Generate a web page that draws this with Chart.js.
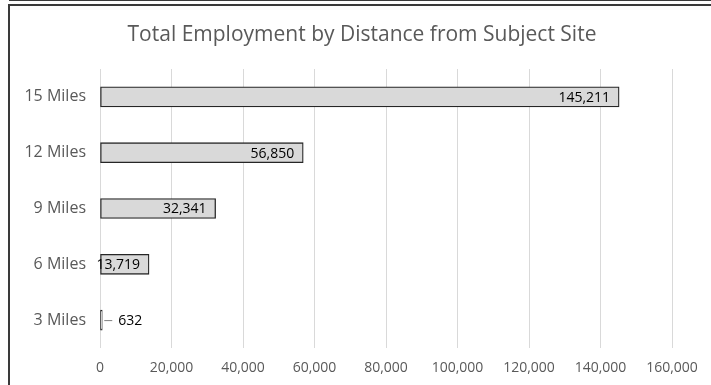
<!DOCTYPE html>
<html>
<head>
<meta charset="utf-8">
<script src="https://cdn.jsdelivr.net/npm/chart.js@4/dist/chart.umd.min.js"></script>
<style>
  html, body { margin: 0; padding: 0; background: #fff; }
  #wrap { position: relative; width: 711px; height: 385px; overflow: hidden; }
  #chart { position: absolute; left: 0; top: 0; }
  .edge { position: absolute; background: #3a3a3a; }
</style>
</head>
<body>
<div id="wrap">
  <canvas id="chart" width="711" height="385"></canvas>
  <!-- frame lines around the chart object -->
  <div class="edge" style="left:9px; top:0; width:702px; height:1px;"></div>
  <div class="edge" style="left:8px; top:4px; width:703px; height:2px;"></div>
  <div class="edge" style="left:8px; top:4px; width:2px; height:381px;"></div>
</div>
<script>
const categories = ['15 Miles', '12 Miles', '9 Miles', '6 Miles', '3 Miles'];
const employment = [145211, 56850, 32341, 13719, 632];
const xTicks = [0, 20000, 40000, 60000, 80000, 100000, 120000, 140000, 160000];
const titleText = 'Total Employment by Distance from Subject Site';

const fontFamily = '"Open Sans", "Noto Sans", sans-serif';
const fmt = v => v.toLocaleString('en-US');

// title centred over the whole chart object, not just the plot
const chartTitle = {
  id: 'chartTitle',
  afterDraw(chart) {
    const ctx = chart.ctx;
    ctx.save();
    ctx.font = '21px ' + fontFamily;
    ctx.fillStyle = '#595959';
    ctx.textAlign = 'center';
    ctx.textBaseline = 'middle';
    ctx.fillText(titleText, 362, 35);
    ctx.restore();
  }
};

// value labels: inside the end of the bar, or outside with a short leader for tiny bars
const barLabels = {
  id: 'barLabels',
  afterDatasetsDraw(chart) {
    const ctx = chart.ctx;
    const meta = chart.getDatasetMeta(0);
    ctx.save();
    ctx.font = '14px ' + fontFamily;
    ctx.fillStyle = '#000';
    ctx.textBaseline = 'middle';
    meta.data.forEach((bar, i) => {
      const text = fmt(employment[i]);
      const w = bar.x - bar.base;
      if (w > 30) {
        ctx.textAlign = 'right';
        ctx.fillText(text, bar.x - 9, bar.y + 1);
      } else {
        ctx.strokeStyle = '#7f7f7f';
        ctx.lineWidth = 1;
        ctx.beginPath();
        ctx.moveTo(bar.x + 2, bar.y + 0.5);
        ctx.lineTo(bar.x + 10, bar.y + 0.5);
        ctx.stroke();
        ctx.textAlign = 'left';
        ctx.fillText(text, bar.x + 16, bar.y + 1);
      }
    });
    ctx.restore();
  }
};

new Chart(document.getElementById('chart'), {
  type: 'bar',
  data: {
    labels: categories,
    datasets: [{
      label: 'Total Employment',
      data: employment,
      backgroundColor: '#d9d9d9',
      borderColor: '#262626',
      borderWidth: 1.3,
      borderSkipped: false,
      barThickness: 20
    }]
  },
  options: {
    indexAxis: 'y',
    responsive: false,
    animation: false,
    layout: { padding: { left: 0, right: 39, top: 69, bottom: 0 } },
    plugins: {
      legend: { display: false },
      tooltip: { enabled: false },
      title: { display: false }
    },
    scales: {
      x: {
        min: 0,
        max: 160000,
        afterBuildTicks: s => { s.ticks = xTicks.map(v => ({ value: v })); },
        afterFit: s => { s.height = 37; },
        grid: { color: '#d9d9d9', lineWidth: 1, drawTicks: false },
        border: { display: false },
        ticks: {
          padding: 12,
          color: '#595959',
          font: { family: fontFamily, size: 14 },
          callback: v => fmt(v)
        }
      },
      y: {
        afterFit: s => { s.width = 100; },
        grid: { display: false, drawTicks: false },
        border: { display: false },
        ticks: {
          padding: 14,
          color: '#595959',
          font: { family: fontFamily, size: 16 }
        }
      }
    }
  },
  plugins: [barLabels, chartTitle]
});
</script>
</body>
</html>
